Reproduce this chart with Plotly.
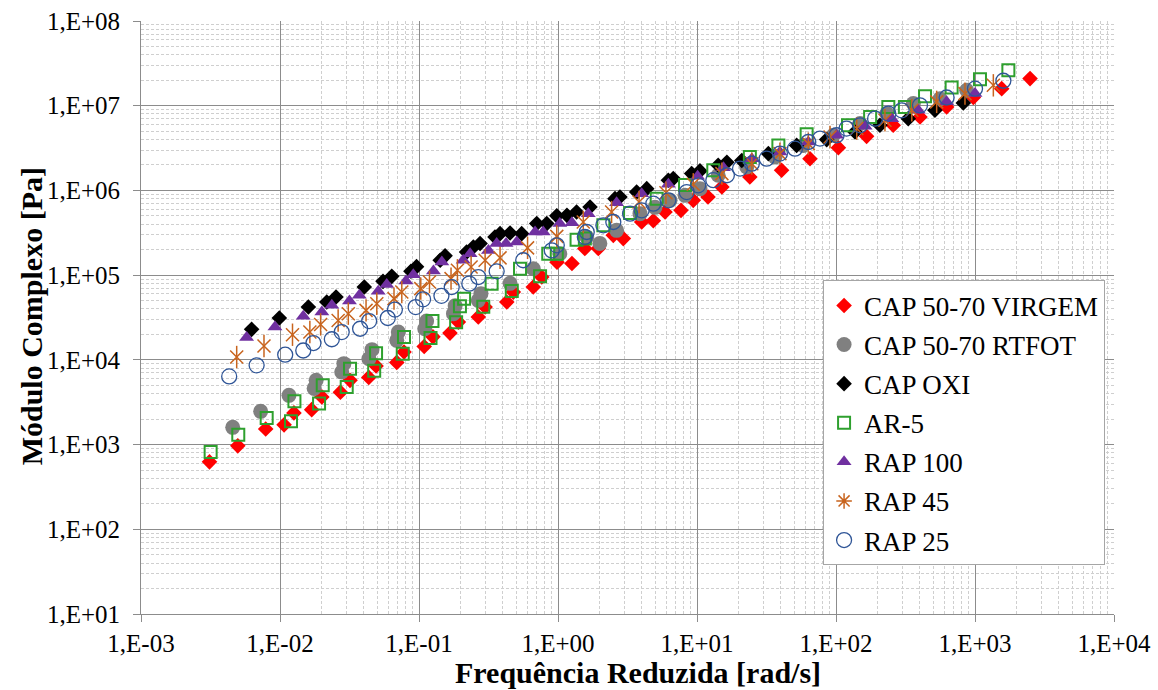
import plotly.graph_objects as go

# ---- data: reduced frequency [rad/s] and complex modulus [Pa] ----
virgem_x = [3.11e-3, 4.97e-3, 7.89e-3, 1.07e-2, 1.26e-2, 1.69e-2, 2.0e-2, 2.72e-2, 3.19e-2, 4.35e-2,
            4.91e-2, 6.92e-2, 7.80e-2, 0.109, 0.126, 0.167, 0.192, 0.267, 0.299, 0.428, 0.477, 0.664,
            0.764, 0.984, 1.26, 1.56, 1.95, 2.50, 2.95, 4.0, 4.85, 5.89, 7.67, 9.4, 12.0, 15.1, 24.0,
            40.6, 65.0, 104, 166, 258, 402, 625, 973, 1556, 2489]
virgem_y = [625, 966, 1524, 1710, 2366, 2582, 3656, 4159, 5728, 6209, 8490, 9330, 1.24e4, 1.44e4,
            1.87e4, 2.07e4, 2.79e4, 3.2e4, 4.2e4, 4.81e4, 6.31e4, 7.24e4, 9.5e4, 1.42e5, 1.37e5,
            2.06e5, 2.06e5, 2.95e5, 2.70e5, 4.24e5, 4.38e5, 5.56e5, 5.82e5, 7.64e5, 8.36e5, 1.10e6,
            1.44e6, 1.73e6, 2.37e6, 3.20e6, 4.35e6, 5.87e6, 7.36e6, 9.66e6, 1.25e7, 1.59e7, 2.09e7]

rtfot_x = [4.57e-3, 7.26e-3, 1.16e-2, 1.76e-2, 1.82e-2, 2.78e-2, 2.88e-2, 4.36e-2, 4.59e-2, 6.92e-2,
           7.1e-2, 0.110, 0.1135, 0.177, 0.182, 0.267, 0.279, 0.452, 0.664, 1.03, 1.61, 2.0, 2.64,
           3.89, 4.99, 6.40, 8.2, 10.5, 14.2, 22.8, 36.4, 58.2, 95.7, 149, 232, 360, 560, 871]
rtfot_y = [1596, 2466, 3811, 4603, 5728, 7178, 9016, 1.03e4, 1.32e4, 1.70e4, 2.13e4, 2.33e4, 2.88e4,
           3.51e4, 4.34e4, 5.04e4, 6.05e4, 8.0e4, 1.19e5, 1.79e5, 2.82e5, 2.37e5, 3.38e5, 5.32e5,
           6.31e5, 7.64e5, 8.75e5, 1.05e6, 1.51e6, 1.89e6, 2.48e6, 3.40e6, 4.48e6, 6.15e6, 8.07e6,
           1.06e7, 1.21e7, 1.52e7]

oxi_x = [6.25e-3, 9.89e-3, 1.60e-2, 2.17e-2, 2.53e-2, 4.04e-2, 5.51e-2, 6.37e-2, 8.75e-2, 9.6e-2,
         0.142, 0.154, 0.220, 0.246, 0.275, 0.352, 0.383, 0.452, 0.548, 0.703, 0.830, 0.980, 1.16,
         1.36, 1.70, 2.57, 2.79, 3.68, 4.35, 6.22, 6.75, 9.16, 10.5, 14.2, 16.4, 21.0, 32.6, 52.1,
         85.7, 137, 207, 331, 515, 824]
oxi_y = [2.29e4, 3.12e4, 4.20e4, 4.81e4, 5.51e4, 7.24e4, 8.45e4, 9.68e4, 1.11e5, 1.26e5, 1.50e5,
         1.69e5, 1.87e5, 2.15e5, 2.36e5, 2.82e5, 3.09e5, 3.14e5, 3.09e5, 4.06e5, 4.06e5, 5.01e5,
         5.08e5, 5.56e5, 6.37e5, 8.0e5, 8.36e5, 9.57e5, 1.05e6, 1.32e6, 1.38e6, 1.58e6, 1.70e6,
         1.98e6, 2.15e6, 2.26e6, 2.72e6, 3.40e6, 3.98e6, 4.89e6, 5.87e6, 7.04e6, 8.83e6, 1.08e7]

ar5_x = [3.17e-3, 5.01e-3, 8.02e-3, 1.20e-2, 1.27e-2, 1.91e-2, 2.03e-2, 3.02e-2, 3.19e-2, 4.76e-2,
         4.91e-2, 7.64e-2, 7.8e-2, 0.121, 0.125, 0.185, 0.197, 0.211, 0.290, 0.333, 0.465, 0.533,
         0.743, 0.851, 0.98, 1.36, 1.56, 2.12, 3.30, 5.13, 8.20, 13.1, 24.0, 38.5, 61.5, 122, 176,
         238, 313, 437, 679, 1086, 1738]
ar5_y = [815, 1309, 2056, 1879, 3236, 3062, 5.0e3, 4775, 7870, 7450, 1.20e4, 1.18e4, 1.86e4, 1.81e4,
         2.87e4, 2.77e4, 4.28e4, 5.28e4, 4.23e4, 7.94e4, 6.49e4, 1.19e5, 9.68e4, 1.79e5, 1.79e5,
         2.62e5, 2.70e5, 3.87e5, 5.41e5, 8.0e5, 1.16e6, 1.73e6, 2.48e6, 3.40e6, 4.59e6, 5.87e6,
         7.36e6, 9.66e6, 9.66e6, 1.29e7, 1.64e7, 2.06e7, 2.62e7]

rap100_x = [5.75e-3, 9.2e-3, 1.47e-2, 2.0e-2, 2.36e-2, 3.16e-2, 3.72e-2, 5.09e-2, 5.86e-2, 8.05e-2,
            9.1e-2, 0.127, 0.146, 0.208, 0.233, 0.316, 0.362, 0.423, 0.505, 0.684, 0.783, 1.03,
            1.26, 1.65, 2.64, 4.0, 6.22, 10.1, 15.5, 24.8, 39.5, 63.2, 101, 162, 252, 391, 625, 1000]
rap100_y = [1.83e4, 2.44e4, 3.27e4, 3.66e4, 4.40e4, 4.94e4, 5.77e4, 6.44e4, 7.73e4, 8.51e4, 1.01e5,
            1.12e5, 1.43e5, 1.50e5, 1.79e5, 1.96e5, 2.36e5, 2.36e5, 2.46e5, 3.23e5, 3.23e5, 4.06e5,
            4.14e5, 5.32e5, 7.14e5, 9.16e5, 1.18e6, 1.47e6, 1.85e6, 2.37e6, 2.84e6, 3.73e6, 4.48e6,
            5.71e6, 7.04e6, 8.83e6, 1.11e7, 1.39e7]

rap45_x = [4.88e-3, 7.67e-3, 1.23e-2, 1.64e-2, 1.96e-2, 2.62e-2, 3.10e-2, 4.16e-2, 4.97e-2, 6.61e-2,
           7.52e-2, 0.103, 0.119, 0.170, 0.189, 0.237, 0.299, 0.383, 0.604, 0.98, 1.52, 2.43, 3.83,
           5.98, 9.4, 15.1, 24.8, 39.5, 63.2, 90.6, 141, 225, 351, 530, 847, 1355]
rap45_y = [1.08e4, 1.46e4, 1.98e4, 2.13e4, 2.62e4, 2.92e4, 3.51e4, 3.84e4, 4.60e4, 5.28e4, 6.31e4,
           6.93e4, 8.3e4, 9.1e4, 1.14e5, 1.25e5, 1.50e5, 1.60e5, 2.10e5, 2.87e5, 4.24e5, 5.56e5,
           7.29e5, 9.37e5, 1.18e6, 1.58e6, 2.07e6, 2.72e6, 3.57e6, 4.27e6, 5.37e6, 6.73e6, 8.83e6,
           1.11e7, 1.39e7, 1.74e7]

rap25_x = [4.31e-3, 6.79e-3, 1.09e-2, 1.47e-2, 1.74e-2, 2.36e-2, 2.78e-2, 3.77e-2, 4.38e-2, 5.96e-2,
           6.71e-2, 9.46e-2, 0.107, 0.145, 0.172, 0.230, 0.267, 0.362, 0.562, 0.902, 0.98, 1.56,
           1.61, 2.12, 2.50, 3.30, 4.0, 4.85, 6.22, 8.43, 10.2, 13.1, 16.4, 20.4, 24.8, 31.7, 39.5,
           50.7, 63.2, 76.7, 101, 119, 149, 191, 238, 297, 402, 625, 1000, 1600]
rap25_y = [6.38e3, 8.61e3, 1.15e4, 1.29e4, 1.58e4, 1.75e4, 2.13e4, 2.33e4, 2.87e4, 3.12e4, 3.92e4,
           4.20e4, 5.18e4, 5.70e4, 7.24e4, 7.94e4, 9.5e4, 1.11e5, 1.50e5, 1.96e5, 2.25e5, 2.82e5,
           3.23e5, 3.87e5, 4.24e5, 5.32e5, 5.82e5, 6.98e5, 7.64e5, 9.57e5, 1.15e6, 1.32e6, 1.51e6,
           1.81e6, 2.07e6, 2.37e6, 2.72e6, 3.11e6, 3.73e6, 4.09e6, 4.48e6, 5.37e6, 5.87e6, 7.04e6,
           8.07e6, 8.83e6, 1.01e7, 1.25e7, 1.59e7, 1.97e7]

series_names = ["CAP 50-70 VIRGEM", "CAP 50-70 RTFOT", "CAP OXI", "AR-5", "RAP 100", "RAP 45", "RAP 25"]

x_tick_vals = [1e-3, 1e-2, 1e-1, 1e0, 1e1, 1e2, 1e3, 1e4]
x_tick_labels = ["1,E-03", "1,E-02", "1,E-01", "1,E+00", "1,E+01", "1,E+02", "1,E+03", "1,E+04"]
y_tick_vals = [1e1, 1e2, 1e3, 1e4, 1e5, 1e6, 1e7, 1e8]
y_tick_labels = ["1,E+01", "1,E+02", "1,E+03", "1,E+04", "1,E+05", "1,E+06", "1,E+07", "1,E+08"]

# ---- styling ----
FONT = "Times New Roman, Liberation Serif, serif"
MAJOR = "#8C8C8C"
MINOR = "#CFCFCF"

RED = "#FF0000"
GRAY = "#808080"
BLACK = "#000000"
GREEN = "#2EA02E"
PURPLE = "#7030A0"
ORANGE = "#C8641E"
BLUE = "#2F5597"

fig = go.Figure()


def add(name, xs, ys, marker, showlegend=True, group=None):
    fig.add_trace(go.Scatter(
        x=xs, y=ys, mode="markers", name=name, marker=marker,
        showlegend=showlegend, legendgroup=group or name,
    ))


add(series_names[0], virgem_x, virgem_y, dict(symbol="diamond", size=12, color=RED))
add(series_names[1], rtfot_x, rtfot_y, dict(symbol="circle", size=15, color=GRAY))
add(series_names[2], oxi_x, oxi_y, dict(symbol="diamond", size=12, color=BLACK))
add(series_names[3], ar5_x, ar5_y,
    dict(symbol="square-open", size=12, color=GREEN, line=dict(width=2, color=GREEN)))
add(series_names[4], rap100_x, rap100_y, dict(symbol="triangle-up", size=13, color=PURPLE))
# six-armed star: an "x" plus a vertical stroke
add(series_names[5], rap45_x, rap45_y,
    dict(symbol="x-thin-open", size=13, color=ORANGE, line=dict(width=1.5, color=ORANGE)),
    showlegend=False, group="rap45")
add(series_names[5], rap45_x, rap45_y,
    dict(symbol="line-ns-open", size=16, color=ORANGE, line=dict(width=1.5, color=ORANGE)),
    showlegend=False, group="rap45")
add(series_names[5], [None], [None],
    dict(symbol="asterisk-open", size=13, color=ORANGE, line=dict(width=1.5, color=ORANGE)),
    group="rap45")
add(series_names[6], rap25_x, rap25_y,
    dict(symbol="circle-open", size=15, color=BLUE, line=dict(width=1.3, color=BLUE)))

# minor gridlines at 2..9 of each decade
minor_x = [m * 10.0 ** d for d in range(-2, 4) for m in range(2, 10)]
minor_y = [m * 10.0 ** d for d in range(1, 8) for m in range(2, 10)]

axis_common = dict(
    type="log",
    showline=True, linecolor=MAJOR, linewidth=1,
    showgrid=True, gridcolor=MAJOR, gridwidth=1,
    ticks="outside", ticklen=7, tickcolor=MAJOR, tickwidth=1,
    tickfont=dict(family=FONT, size=25, color="black"),
    zeroline=False, mirror=False,
)

fig.update_xaxes(
    range=[-3, 4], tickmode="array", tickvals=x_tick_vals, ticktext=x_tick_labels,
    minor=dict(tickmode="array", tickvals=minor_x, showgrid=True, gridcolor=MINOR,
               griddash="3px,2px", gridwidth=1, ticklen=0),
    **axis_common,
)
fig.update_yaxes(
    range=[1, 8], tickmode="array", tickvals=y_tick_vals, ticktext=y_tick_labels,
    minor=dict(tickmode="array", tickvals=minor_y, showgrid=True, gridcolor=MINOR,
               griddash="3px,2px", gridwidth=1, ticklen=0),
    ticklabelstandoff=8,
    **axis_common,
)

fig.update_layout(
    width=1158, height=690,
    margin=dict(l=141, r=44, t=21, b=76, autoexpand=False),
    paper_bgcolor="white", plot_bgcolor="white",
    font=dict(family=FONT, size=25, color="black"),
    legend=dict(
        x=0.701, y=0.5626, xanchor="left", yanchor="top",
        bgcolor="white", bordercolor="#A6A6A6", borderwidth=1,
        font=dict(family=FONT, size=27, color="black"),
        tracegroupgap=1, itemsizing="trace",
    ),
    annotations=[
        dict(text="<b>Frequência Reduzida [rad/s]</b>", xref="paper", yref="paper",
             x=0.511, y=-0.098, xanchor="center", yanchor="middle", showarrow=False,
             font=dict(family=FONT, size=30, color="black")),
        dict(text="<b>Módulo Complexo [Pa]</b>", xref="paper", yref="paper",
             x=-0.113, y=0.502, xanchor="center", yanchor="middle", textangle=-90,
             showarrow=False, font=dict(family=FONT, size=30, color="black")),
    ],
)

fig.write_html("out.html")
